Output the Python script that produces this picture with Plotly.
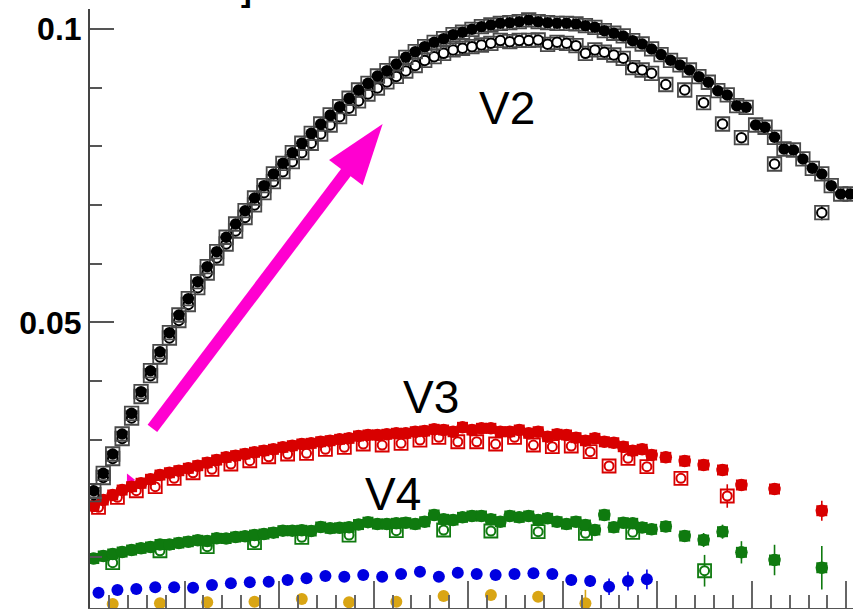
import numpy as np
import plotly.graph_objects as go

# ---------------------------------------------------------------------------
# Data: flow harmonics vs centrality (%)
# ---------------------------------------------------------------------------
# 1%-wide bin centres, plus the wider peripheral bins
X_1PCT = [i + 0.4 for i in range(60)]
X_V2_FULL = [i + 0.4 for i in range(81)]
X_2PCT = [2 * i + 0.9 for i in range(30)]
X_5PCT = [5 * i + 2.4 for i in range(12)]
X_PERIPH = [60.9, 62.9, 64.9, 66.9, 68.9, 72.4, 77.4]

v2_filled = [
    0.02126, 0.02423, 0.02753, 0.03094, 0.03447, 0.03816, 0.04174, 0.04498, 0.04823, 0.05125,
    0.05403, 0.05693, 0.05949, 0.06205, 0.06451, 0.06677, 0.06904, 0.07121, 0.07331, 0.07531,
    0.07713, 0.07894, 0.08055, 0.08225, 0.08384, 0.08538, 0.08679, 0.08823, 0.08964, 0.09078,
    0.09203, 0.09294, 0.09408, 0.09522, 0.09618, 0.09703, 0.09778, 0.09840, 0.09908, 0.09949,
    0.10000, 0.10044, 0.10073, 0.10102, 0.10113, 0.10130, 0.10159, 0.10130, 0.10113, 0.10102,
    0.10102, 0.10091, 0.10061, 0.10034, 0.09976, 0.09932, 0.09886, 0.09805, 0.09749, 0.09664,
    0.09568, 0.09471, 0.09391, 0.09305, 0.09191, 0.09096, 0.08952, 0.08879, 0.08696, 0.08669,
    0.08367, 0.08328, 0.08157, 0.07957, 0.07940, 0.07787, 0.07628, 0.07531, 0.07331, 0.07189,
    0.07189,
]

v2_open = [
    0.02058, 0.02352, 0.02676, 0.03017, 0.03367, 0.03734, 0.04089, 0.04408, 0.04732, 0.05031,
    0.05304, 0.05590, 0.05841, 0.06097, 0.06336, 0.06558, 0.06788, 0.07002, 0.07212, 0.07399,
    0.07570, 0.07741, 0.07894, 0.08055, 0.08213, 0.08367, 0.08509, 0.08652, 0.08777, 0.08896,
    0.08998, 0.09101, 0.09195, 0.09288, 0.09382, 0.09468, 0.09532, 0.09590, 0.09647, 0.09676,
    0.09703, 0.09732, 0.09761, 0.09809, 0.09788, 0.09809, 0.09809, 0.09817, 0.09744, 0.09778,
    0.09761, 0.09720, 0.09590, 0.09647, 0.09608, 0.09561, 0.09505, 0.09345, 0.09305, 0.09249,
]
v2_open_periph = [0.09058, 0.08964, 0.08747, 0.08384, 0.08150, 0.07701, 0.06870]
v2_open_periph_err = [0.0, 0.0, 0.0, 0.0, 0.0, 0.0, 0.0013]

v3_filled = [
    0.01865, 0.01968, 0.02053, 0.02138, 0.02195, 0.02253, 0.02321, 0.02394, 0.02433, 0.02468,
    0.02509, 0.02553, 0.02604, 0.02650, 0.02696, 0.02724, 0.02753, 0.02782, 0.02809, 0.02833,
    0.02867, 0.02894, 0.02923, 0.02935, 0.02962, 0.02980, 0.03003, 0.03020, 0.03060, 0.03077,
    0.03077, 0.03089, 0.03106, 0.03106, 0.03133, 0.03145, 0.03174, 0.03162, 0.03133, 0.03208,
    0.03162, 0.03191, 0.03191, 0.03133, 0.03133, 0.03162, 0.03106, 0.03133, 0.03048, 0.03089,
    0.03077, 0.03031, 0.02980, 0.03020, 0.02962, 0.02945, 0.02877, 0.02809, 0.02833, 0.02735,
]
v3_filled_periph = [0.02696, 0.02633, 0.02565, 0.02480, 0.02224, 0.02155, 0.01785]
v3_filled_periph_err = [0.0002, 0.0002, 0.0002, 0.0003, 0.0008, 0.0004, 0.0017]

v3_open = [
    0.01843, 0.02014, 0.02126, 0.02195, 0.02338, 0.02433, 0.02491, 0.02582, 0.02638, 0.02706,
    0.02753, 0.02765, 0.02833, 0.02867, 0.02923, 0.02906, 0.02935, 0.02991, 0.03038, 0.02962,
    0.02962, 0.02923, 0.03038, 0.02906, 0.02877, 0.02889, 0.02792, 0.02548, 0.02679, 0.02536,
]
x_v3_open_periph = [62.5, 67.4]
v3_open_periph = [0.02338, 0.02036]
v3_open_periph_err = [0.0003, 0.0020]

v4_filled = [
    0.00969, 0.01012, 0.01046, 0.01080, 0.01114, 0.01143, 0.01166, 0.01208, 0.01208, 0.01234,
    0.01256, 0.01280, 0.01268, 0.01314, 0.01311, 0.01336, 0.01348, 0.01370, 0.01387, 0.01410,
    0.01444, 0.01444, 0.01451, 0.01439, 0.01507, 0.01485, 0.01493, 0.01502, 0.01549, 0.01589,
    0.01558, 0.01558, 0.01570, 0.01580, 0.01558, 0.01597, 0.01712, 0.01638, 0.01626, 0.01672,
    0.01695, 0.01695, 0.01638, 0.01597, 0.01695, 0.01672, 0.01695, 0.01626, 0.01655, 0.01597,
    0.01558, 0.01597, 0.01541, 0.01456, 0.01712, 0.01502, 0.01580, 0.01570, 0.01498, 0.01468,
]
v4_filled_periph = [0.01515, 0.01353, 0.01285, 0.01427, 0.01075, 0.00944, 0.00812]
v4_filled_periph_err = [0.0002, 0.0005, 0.0012, 0.0012, 0.0019, 0.0026, 0.0037]

v4_open = [0.00898, 0.01102, 0.01171, 0.01239, 0.01331, 0.01370,
           0.01444, 0.01456, 0.01439, 0.01427, 0.01399, 0.01416]
x_v4_open_periph = [65.0]
v4_open_periph = [0.00761]
v4_open_periph_err = [0.0027]

v5_filled = [
    0.00386, 0.00432, 0.00449, 0.00478, 0.00478, 0.00471, 0.00517, 0.00546, 0.00563, 0.00573,
    0.00602, 0.00631, 0.00671, 0.00659, 0.00688, 0.00659, 0.00705, 0.00744, 0.00659, 0.00727,
    0.00705, 0.00688, 0.00705, 0.00717, 0.00705, 0.00602, 0.00585, 0.00488, 0.00585, 0.00614,
]
v5_err = [0.0] * 25 + [0.0009, 0.0010, 0.0014, 0.0016, 0.0017]

v6_filled = [0.00193, 0.00205, 0.00222, 0.00232, 0.00278, 0.00222,
             0.00232, 0.00329, 0.00346, 0.00317, 0.00205]
v6_err = [0.0] * 9 + [0.0009, 0.0023]

# lone reference marker near the start of the V3 curve
marker_x = [4.2]
marker_y = [0.0231]

# arrow (tail -> tip) in data coordinates
arrow_tail = (6.6, 0.03190)
arrow_tip = (30.95, 0.08384)

# ---------------------------------------------------------------------------
# Axes geometry
# ---------------------------------------------------------------------------
W, H = 853, 609
M_L, M_R, M_T, M_B = 90, 0, 9, 1
X_RANGE = [0.0, 80.7]
Y_RANGE = [0.00125, 0.10346]

BLACK = "#000000"
RED = "#d80000"
GREEN = "#0f7a0f"
BLUE = "#0000e0"
GOLD = "#d9a514"
MAGENTA = "#ff00d0"
FRAME = "#4a4a4a"

fig = go.Figure()


def add_filled(x, y, color, err=None, outline=None, size=12):
    """Solid point drawn as a square under a disc (rounded-square look)."""
    ey = dict(type="data", array=err, visible=True, color=color,
              thickness=1.6, width=0) if err is not None else None
    if outline:
        fig.add_trace(go.Scatter(
            x=x, y=y, mode="markers", error_y=ey, hoverinfo="skip",
            marker=dict(symbol="square-open", size=size + 2,
                        line=dict(color=outline, width=1.8), color=outline)))
        fig.add_trace(go.Scatter(
            x=x, y=y, mode="markers", hoverinfo="skip",
            marker=dict(symbol="circle", size=size, color=color,
                        line=dict(width=0))))
    else:
        fig.add_trace(go.Scatter(
            x=x, y=y, mode="markers", error_y=ey, hoverinfo="skip",
            marker=dict(symbol="square", size=size - 1.5, color=color,
                        line=dict(width=0))))
        fig.add_trace(go.Scatter(
            x=x, y=y, mode="markers", hoverinfo="skip",
            marker=dict(symbol="circle", size=size, color=color,
                        line=dict(width=0))))


def add_open(x, y, color, square_color, err=None, size=12):
    """Hollow point: square frame around a white disc."""
    ey = dict(type="data", array=err, visible=True, color=color,
              thickness=1.6, width=0) if err is not None else None
    fig.add_trace(go.Scatter(
        x=x, y=y, mode="markers", error_y=ey, hoverinfo="skip",
        marker=dict(symbol="square-open", size=size,
                    line=dict(color=square_color, width=1.8), color=square_color)))
    fig.add_trace(go.Scatter(
        x=x, y=y, mode="markers", hoverinfo="skip",
        marker=dict(symbol="circle", size=size - 4, color="white",
                    line=dict(color=color, width=2))))


# magenta marker sits underneath the V3 points
fig.add_trace(go.Scatter(
    x=marker_x, y=marker_y, mode="markers", hoverinfo="skip",
    marker=dict(symbol="triangle-right", size=11, color=MAGENTA, line=dict(width=0))))

# V6 and V5
fig.add_trace(go.Scatter(
    x=X_5PCT[:11], y=v6_filled, mode="markers", hoverinfo="skip",
    error_y=dict(type="data", array=v6_err, color=GOLD, thickness=1.6, width=0),
    marker=dict(symbol="circle", size=12, color=GOLD, line=dict(width=0))))
fig.add_trace(go.Scatter(
    x=X_2PCT, y=v5_filled, mode="markers", hoverinfo="skip",
    error_y=dict(type="data", array=v5_err, color=BLUE, thickness=1.6, width=0),
    marker=dict(symbol="circle", size=12, color=BLUE, line=dict(width=0))))

# V4
add_open(X_5PCT + x_v4_open_periph, v4_open + v4_open_periph, GREEN, GREEN,
         err=[0.0] * 12 + v4_open_periph_err, size=13)
add_filled(X_1PCT + X_PERIPH, v4_filled + v4_filled_periph, GREEN,
           err=[0.0] * 60 + v4_filled_periph_err, size=12.5)

# V3
add_open(X_2PCT + x_v3_open_periph, v3_open + v3_open_periph, RED, RED,
         err=[0.0] * 30 + v3_open_periph_err, size=13)
add_filled(X_1PCT + X_PERIPH, v3_filled + v3_filled_periph, RED,
           err=[0.0] * 60 + v3_filled_periph_err, size=12.5)

# V2
add_open(X_1PCT + X_PERIPH, v2_open + v2_open_periph, BLACK, FRAME,
         err=[0.0] * 60 + v2_open_periph_err, size=13.5)
add_filled(X_V2_FULL, v2_filled, BLACK, outline=FRAME, size=11.5)

# ---------------------------------------------------------------------------
# Arrow: thick shaft plus a narrow triangular head
# ---------------------------------------------------------------------------
plot_w = W - M_L - M_R
plot_h = H - M_T - M_B
sx = plot_w / (X_RANGE[1] - X_RANGE[0])   # px per x unit
sy = plot_h / (Y_RANGE[1] - Y_RANGE[0])   # px per y unit

d = np.array([(arrow_tip[0] - arrow_tail[0]) * sx, (arrow_tip[1] - arrow_tail[1]) * sy])
u = d / np.linalg.norm(d)
n = np.array([-u[1], u[0]])
head_len, head_half = 61.0, 21.0


def to_data(off):
    return arrow_tip[0] + off[0] / sx, arrow_tip[1] + off[1] / sy


shaft_end = to_data(-u * head_len * 0.75)
p1 = to_data(-u * head_len + n * head_half)
p2 = to_data(-u * head_len - n * head_half)

fig.add_shape(type="line", xref="x", yref="y",
              x0=arrow_tail[0], y0=arrow_tail[1], x1=shaft_end[0], y1=shaft_end[1],
              line=dict(color=MAGENTA, width=12), layer="above")
fig.add_shape(type="path", xref="x", yref="y",
              path=f"M {arrow_tip[0]},{arrow_tip[1]} L {p1[0]},{p1[1]} L {p2[0]},{p2[1]} Z",
              fillcolor=MAGENTA, line=dict(width=0), layer="above")

# ---------------------------------------------------------------------------
# Labels
# ---------------------------------------------------------------------------
label_font = dict(family="Liberation Sans, Arial, sans-serif", size=46, color="black")
for txt, lx, ly in [("V2", 44.07, 0.08657), ("V3", 36.08, 0.03725), ("V4", 32.0, 0.0207)]:
    fig.add_annotation(x=lx, y=ly, xref="x", yref="y", text=txt, showarrow=False,
                       xanchor="center", yanchor="middle", font=label_font)

# closing bracket of the axis title, sitting just above the frame
fig.add_annotation(x=(246 - M_L) / plot_w, y=1, xref="paper", yref="paper", text="]",
                   showarrow=False, xanchor="center", yanchor="bottom", yshift=-1,
                   font=dict(family="Liberation Sans, Arial, sans-serif", size=32,
                             color="black", weight="bold"))

fig.update_layout(
    width=W, height=H,
    margin=dict(l=M_L, r=M_R, t=M_T, b=M_B, pad=0),
    paper_bgcolor="white", plot_bgcolor="white",
    showlegend=False,
    xaxis=dict(
        range=X_RANGE, showgrid=False, zeroline=False,
        showline=True, linecolor="#555555", linewidth=2,
        ticks="inside", tick0=0, dtick=10, ticklen=27, tickwidth=2, tickcolor="#666666",
        minor=dict(ticks="inside", dtick=2, ticklen=13, tickwidth=2, tickcolor="#666666"),
        showticklabels=False,
    ),
    yaxis=dict(
        range=Y_RANGE, showgrid=False, zeroline=False,
        showline=True, linecolor="#444444", linewidth=2,
        ticks="inside", tick0=0, dtick=0.05, ticklen=24, tickwidth=2, tickcolor="#555555",
        minor=dict(ticks="inside", dtick=0.01, ticklen=12, tickwidth=2, tickcolor="#555555"),
        tickvals=[0.05, 0.1], ticktext=["0.05", "0.1"],
        tickfont=dict(family="Liberation Sans, Arial, sans-serif", size=32,
                      color="black", weight="bold"),
    ),
)

fig.write_html("out.html")
